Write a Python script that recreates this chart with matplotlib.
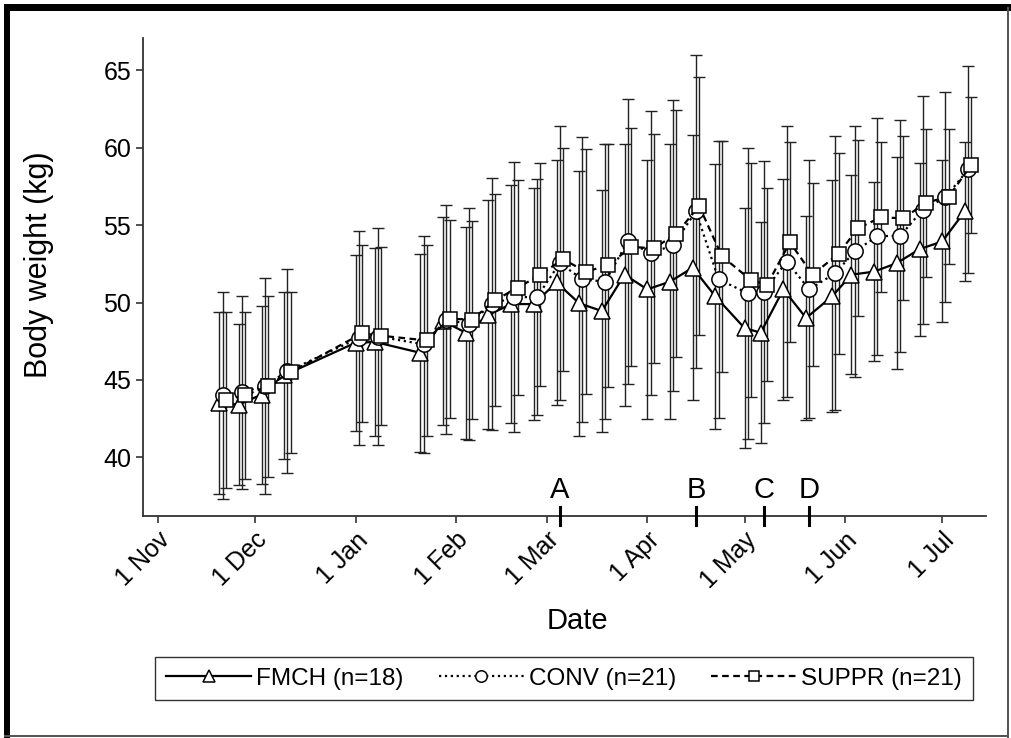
import numpy as np
import pandas as pd
import matplotlib
matplotlib.use("Agg")
import matplotlib.pyplot as plt
import matplotlib.dates as mdates
from matplotlib.patches import Rectangle
from matplotlib.transforms import blended_transform_factory

plt.rcParams["font.family"] = ["Liberation Sans", "DejaVu Sans"]

# sampling dates (weekly weighings)
dates = pd.to_datetime([
    "2009-11-21", "2009-11-27", "2009-12-04", "2009-12-11", "2010-01-02",
    "2010-01-08", "2010-01-22", "2010-01-29", "2010-02-05", "2010-02-12",
    "2010-02-19", "2010-02-26", "2010-03-05", "2010-03-12", "2010-03-19",
    "2010-03-26", "2010-04-02", "2010-04-09", "2010-04-16", "2010-04-23",
    "2010-05-02", "2010-05-07", "2010-05-14", "2010-05-21", "2010-05-29",
    "2010-06-04", "2010-06-11", "2010-06-18", "2010-06-25", "2010-07-02",
    "2010-07-09",
])

fmch_mean = [43.5, 43.4, 44.05, 45.3, 47.4, 47.45, 46.75, 48.8, 48.05, 49.2,
             49.9, 49.9, 51.3, 49.95, 49.45, 51.8, 50.85, 51.35, 52.25, 50.4,
             48.35, 48.05, 50.85, 49.0, 50.4, 51.8, 52.0, 52.55, 53.45, 53.95,
             55.9]
fmch_sd = [5.9, 5.2, 5.75, 5.4, 5.7, 6.1, 6.4, 6.7, 6.85, 7.4,
           7.7, 7.5, 7.9, 8.55, 7.8, 8.46, 8.35, 8.9, 8.55, 8.55,
           7.75, 7.15, 7.15, 6.57, 7.5, 6.42, 5.8, 6.85, 5.6, 5.24,
           4.5]

conv_mean = [44.0, 44.2, 44.6, 45.55, 47.7, 47.8, 47.3, 48.9, 48.6, 49.9,
             50.35, 50.35, 52.55, 51.5, 51.35, 53.95, 53.2, 53.7, 55.9, 51.5,
             50.6, 50.7, 52.65, 50.85, 51.9, 53.3, 54.3, 54.3, 56.0, 56.8,
             58.6]
conv_sd = [6.7, 6.25, 6.96, 6.6, 6.9, 7.0, 7.0, 7.4, 7.5, 8.15,
           8.75, 7.65, 8.85, 9.2, 8.9, 9.2, 9.2, 9.4, 10.1, 8.96,
           9.4, 8.47, 8.75, 8.34, 8.84, 8.1, 7.66, 7.47, 7.37, 6.78,
           6.72]

suppr_mean = [43.7, 44.0, 44.6, 45.5, 48.0, 47.85, 47.55, 48.95, 48.9, 50.15,
              50.95, 51.8, 52.8, 52.0, 52.4, 53.6, 53.5, 54.45, 56.25, 53.0,
              51.45, 51.15, 53.9, 51.8, 53.15, 54.8, 55.5, 55.45, 56.45, 56.85,
              58.9]
suppr_sd = [5.7, 5.4, 5.85, 5.2, 5.7, 5.75, 6.2, 6.4, 6.4, 6.85,
            6.95, 7.2, 7.2, 7.9, 7.86, 7.7, 7.4, 8.0, 8.35, 7.46,
            7.55, 6.25, 6.45, 5.9, 6.5, 5.68, 4.85, 5.3, 4.78, 4.38,
            4.38]

labels = ["FMCH (n=18)", "CONV (n=21)", "SUPPR (n=21)"]

event_labels = ["A", "B", "C", "D"]
event_dates = pd.to_datetime(["2010-03-05", "2010-04-16", "2010-05-07", "2010-05-21"])


def main():
    fig = plt.figure(figsize=(10.11, 7.38), dpi=100)
    ax = fig.add_axes([0.1414, 0.3008, 0.8336, 0.6477])

    series = [
        (fmch_mean, fmch_sd, "^", "-", 11.5, -1),
        (conv_mean, conv_sd, "o", ":", 11, 0),
        (suppr_mean, suppr_sd, "s", (0, (3, 2)), 9.5, 1),
    ]

    # error bars first so the open markers sit on top
    for mean, sd, _, _, _, shift in series:
        x = dates + pd.Timedelta(days=shift)
        ax.errorbar(x, mean, yerr=sd, fmt="none", ecolor="#222222",
                    elinewidth=1.0, capsize=4.3, capthick=1.0, zorder=1)

    handles = []
    for (mean, sd, marker, ls, ms, shift), lab in zip(series, labels):
        x = dates + pd.Timedelta(days=shift)
        h, = ax.plot(x, mean, color="black", linestyle=ls, linewidth=1.6,
                     marker=marker, markersize=ms, markerfacecolor="white",
                     markeredgecolor="black", markeredgewidth=1.1,
                     label=lab, zorder=3)
        handles.append(h)

    ax.set_xlim(pd.Timestamp("2009-10-27 10:00"), pd.Timestamp("2010-07-14 10:00"))
    ax.set_ylim(36.2, 67.1)
    ax.set_yticks([40, 45, 50, 55, 60, 65])
    ax.xaxis.set_major_locator(mdates.MonthLocator())
    ax.xaxis.set_major_formatter(mdates.DateFormatter("%-d %b"))

    for s in ["top", "right"]:
        ax.spines[s].set_visible(False)
    for s in ["left", "bottom"]:
        ax.spines[s].set_color("#333333")
        ax.spines[s].set_linewidth(1.3)

    ax.tick_params(axis="both", direction="out", length=5, width=1.2,
                   color="#333333", labelsize=18)
    for lbl in ax.get_xticklabels():
        lbl.set_rotation(45)
        lbl.set_ha("right")
        lbl.set_rotation_mode("anchor")

    ax.set_xlabel("Date", fontsize=21)
    ax.set_ylabel("Body weight (kg)", fontsize=22)
    ax.xaxis.set_label_coords(0.516, -0.19)
    ax.yaxis.set_label_coords(-0.106, 0.525)

    # management events on the time axis
    trans = blended_transform_factory(ax.transData, ax.transAxes)
    for d, t in zip(event_dates, event_labels):
        ax.plot([d, d], [-0.018, 0.018], color="black", linewidth=2.2,
                transform=trans, clip_on=False, zorder=5)
        ax.text(d, 0.026, t, transform=trans, ha="center", va="bottom",
                fontsize=21)

    leg = fig.legend(handles=handles, labels=labels, ncol=3, loc="center",
                     bbox_to_anchor=(0.558, 0.0806), fontsize=17.5,
                     handlelength=3.5, markerscale=0.75, columnspacing=1.45,
                     handletextpad=0.2, borderpad=0.45, frameon=True,
                     fancybox=False)
    leg.get_frame().set_edgecolor("black")
    leg.get_frame().set_linewidth(1.0)

    # outer frame of the figure panel
    fig.patches.append(Rectangle((0.004, 0.0), 0.006, 0.995, transform=fig.transFigure,
                                 facecolor="black", edgecolor="none"))
    fig.patches.append(Rectangle((0.004, 0.985), 0.996, 0.010, transform=fig.transFigure,
                                 facecolor="black", edgecolor="none"))
    fig.patches.append(Rectangle((0.996, 0.0), 0.002, 0.99, transform=fig.transFigure,
                                 facecolor="#555555", edgecolor="none"))
    fig.patches.append(Rectangle((0.004, 0.002), 0.994, 0.002, transform=fig.transFigure,
                                 facecolor="#555555", edgecolor="none"))

    fig.savefig("out.png", dpi=100)


if __name__ == "__main__":
    main()
